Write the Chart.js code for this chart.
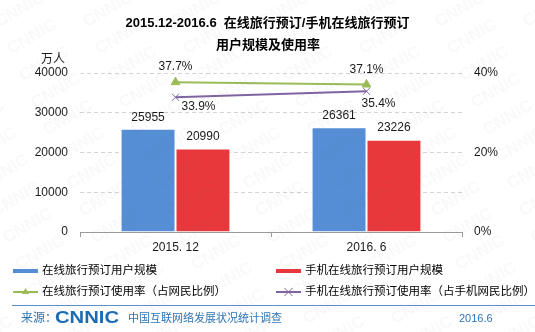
<!DOCTYPE html>
<html>
<head>
<meta charset="utf-8">
<script src="https://cdn.jsdelivr.net/npm/chart.js@4"></script>
<style>
html,body{margin:0;padding:0;background:#fff;}
#wrap{width:535px;height:332px;position:relative;}
</style>
</head>
<body>
<div id="wrap"><canvas id="c" width="535" height="332"></canvas></div>
<script>
const categories = ['2015. 12', '2016. 6'];
const onlineUsers = [25955, 26361];
const mobileUsers = [20990, 23226];
const onlineRate = [37.7, 37.1];
const mobileRate = [33.9, 35.4];
const seriesNames = ['在线旅行预订用户规模', '手机在线旅行预订用户规模', '在线旅行预订使用率（占网民比例）', '手机在线旅行预订使用率（占手机网民比例）'];
const titleLines = ['2015.12-2016.6  在线旅行预订/手机在线旅行预订', '用户规模及使用率'];
const leftUnit = '万人';
const sourceLabel = '来源：';
const sourceLogo = 'CNNIC';
const sourceName = '中国互联网络发展状况统计调查';
const sourceDate = '2016.6';

const NUM = '"Liberation Sans", Arial, sans-serif';
const CJK = '"Liberation Sans", "Noto Sans CJK SC", sans-serif';
const BLUE = '#558ed5';
const RED = '#e9383b';
const GREEN = '#9bbb59';
const PURPLE = '#8064a2';

const decor = {
  id: 'decor',
  afterDatasetsDraw(chart) {
    const ctx = chart.ctx;
    ctx.save();
    ctx.fillStyle = '#1a1a1a';
    ctx.font = '12px ' + NUM;
    ctx.textAlign = 'center';
    ctx.textBaseline = 'middle';
    [0, 1].forEach(di => {
      const meta = chart.getDatasetMeta(di);
      const data = chart.data.datasets[di].data;
      meta.data.forEach((el, i) => {
        ctx.fillText(String(data[i]), el.x, el.y - 11.5);
      });
    });
    const m2 = chart.getDatasetMeta(2);
    m2.data.forEach((el, i) => {
      ctx.fillText(onlineRate[i].toFixed(1) + '%', el.x, el.y - 15);
    });
    const m3 = chart.getDatasetMeta(3);
    const offs = [[23, 9], [12, 12]];
    m3.data.forEach((el, i) => {
      ctx.fillText(mobileRate[i].toFixed(1) + '%', el.x + offs[i][0], el.y + offs[i][1]);
    });
    ctx.restore();
  },
  afterDraw(chart) {
    const ctx = chart.ctx;
    ctx.save();
    ctx.fillStyle = '#000';
    ctx.textAlign = 'center';
    ctx.textBaseline = 'middle';
    ctx.font = 'bold 13px ' + CJK;
    ctx.fillText(titleLines[0], 267.5, 23);
    ctx.fillText(titleLines[1], 268, 45);
    ctx.font = '12px ' + CJK;
    ctx.fillStyle = '#1a1a1a';
    ctx.fillText(leftUnit, 53, 60);

    const ds = chart.data.datasets;
    ctx.textAlign = 'left';
    ctx.font = '11.5px ' + CJK;
    const items = [
      {x: 13, y: 271, kind: 'bar', ds: ds[0]},
      {x: 276, y: 271, kind: 'bar', ds: ds[1]},
      {x: 13, y: 292, kind: 'line', ds: ds[2]},
      {x: 276, y: 292, kind: 'line', ds: ds[3]}
    ];
    items.forEach(it => {
      const w = 25;
      if (it.kind === 'bar') {
        ctx.fillStyle = it.ds.backgroundColor;
        ctx.fillRect(it.x, it.y - 2, w, 4);
      } else {
        ctx.strokeStyle = it.ds.borderColor;
        ctx.lineWidth = 2;
        ctx.beginPath();
        ctx.moveTo(it.x, it.y);
        ctx.lineTo(it.x + w, it.y);
        ctx.stroke();
        const cx = it.x + w / 2;
        if (it.ds.pointStyle === 'triangle') {
          ctx.fillStyle = it.ds.borderColor;
          ctx.beginPath();
          ctx.moveTo(cx, it.y - 4);
          ctx.lineTo(cx + 3.5, it.y + 2);
          ctx.lineTo(cx - 3.5, it.y + 2);
          ctx.closePath();
          ctx.fill();
        } else {
          ctx.lineWidth = 1;
          ctx.beginPath();
          ctx.moveTo(cx - 4, it.y - 4); ctx.lineTo(cx + 4, it.y + 4);
          ctx.moveTo(cx + 4, it.y - 4); ctx.lineTo(cx - 4, it.y + 4);
          ctx.stroke();
        }
      }
      ctx.fillStyle = '#000';
      ctx.fillText(it.ds.label, it.x + w + 4, it.y);
    });

    ctx.strokeStyle = '#5b8fc9';
    ctx.lineWidth = 1;
    ctx.beginPath();
    ctx.moveTo(12, 305.5);
    ctx.lineTo(535, 305.5);
    ctx.stroke();
    ctx.fillStyle = '#2e75b6';
    ctx.font = '12px ' + CJK;
    ctx.fillText(sourceLabel, 21, 319);
    ctx.save();
    ctx.font = 'bold 16px ' + NUM;
    const lw = ctx.measureText(sourceLogo).width;
    ctx.translate(55, 319);
    ctx.scale(64 / lw, 1);
    ctx.fillStyle = '#1c6cb4';
    ctx.fillText(sourceLogo, 0, 0);
    ctx.restore();
    ctx.fillStyle = '#2e75b6';
    ctx.font = '11px ' + CJK;
    ctx.fillText(sourceName, 128, 319);
    ctx.font = '11px ' + NUM;
    ctx.fillText(sourceDate, 459, 319);

    ctx.fillStyle = 'rgba(120,120,120,0.045)';
    ctx.font = 'bold 17px ' + NUM;
    ctx.textAlign = 'center';
    for (let r = -2; r < 16; r++) {
      for (let c = -2; c < 9; c++) {
        const x = c * 88 + r * 12 + 20;
        const y = r * 27 + 10;
        ctx.save();
        ctx.translate(x, y);
        ctx.rotate(-Math.PI / 6);
        ctx.fillText(sourceLogo, 0, 0);
        ctx.restore();
      }
    }
    ctx.restore();
  }
};

new Chart(document.getElementById('c'), {
  data: {
    labels: categories,
    datasets: [
      {type: 'bar', label: seriesNames[0], data: onlineUsers, backgroundColor: BLUE, borderColor: '#fff', borderWidth: 1, yAxisID: 'y', order: 2, categoryPercentage: 0.575, barPercentage: 1},
      {type: 'bar', label: seriesNames[1], data: mobileUsers, backgroundColor: RED, borderColor: '#fff', borderWidth: 1, yAxisID: 'y', order: 2, categoryPercentage: 0.575, barPercentage: 1},
      {type: 'line', label: seriesNames[2], data: onlineRate, borderColor: GREEN, backgroundColor: GREEN, borderWidth: 2, pointStyle: 'triangle', pointRadius: 5, pointBorderWidth: 1, yAxisID: 'y1', order: 0},
      {type: 'line', label: seriesNames[3], data: mobileRate, borderColor: PURPLE, backgroundColor: PURPLE, borderWidth: 2, pointStyle: 'crossRot', pointRadius: 5, pointBorderWidth: 1, yAxisID: 'y1', order: 0}
    ]
  },
  options: {
    responsive: false,
    animation: false,
    devicePixelRatio: 1,
    layout: {padding: {top: 73, bottom: 78, left: 0, right: 0}},
    plugins: {legend: {display: false}, tooltip: {enabled: false}, title: {display: false}},
    scales: {
      x: {
        offset: true,
        grid: {display: true, drawOnChartArea: false, drawTicks: true, tickLength: 5, color: '#9a9a9a', offset: true},
        border: {display: true, color: '#9a9a9a', width: 1},
        ticks: {color: '#1a1a1a', font: {family: NUM, size: 12}, padding: 3, maxRotation: 0},
        afterFit(s) { s.height = 22; }
      },
      y: {
        position: 'left',
        min: 0, max: 40000,
        ticks: {stepSize: 10000, color: '#1a1a1a', font: {family: NUM, size: 12}, padding: 12, callback: v => String(v)},
        grid: {drawTicks: false, color: ctx => ctx.tick && ctx.tick.value === 0 ? 'rgba(0,0,0,0)' : '#d3d3d3', lineWidth: 1},
        border: {display: false, dash: [4, 3]},
        afterFit(s) { s.width = 80; }
      },
      y1: {
        position: 'right',
        min: 0, max: 40,
        ticks: {stepSize: 20, color: '#1a1a1a', font: {family: NUM, size: 12}, padding: 12, callback: v => v + '%'},
        grid: {display: false, drawTicks: false},
        border: {display: false},
        afterFit(s) { s.width = 73; }
      }
    }
  },
  plugins: [decor]
});
</script>
</body>
</html>
